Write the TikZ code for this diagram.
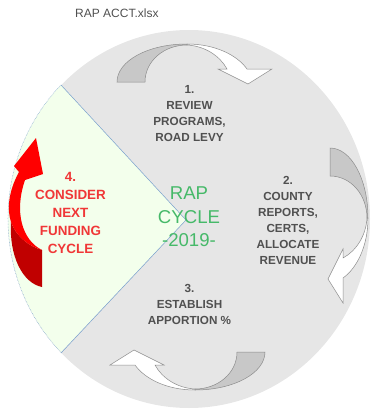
\documentclass[tikz,border=0pt]{standalone}
\usepackage{fontspec}
\setmainfont{Liberation Sans}
\definecolor{discgrey}{RGB}{230,230,230}
\definecolor{wedgegreen}{RGB}{243,255,236}
\definecolor{wedgeline}{RGB}{120,160,205}
\definecolor{labelgrey}{RGB}{80,80,80}
\definecolor{arrowgrey}{RGB}{200,200,200}
\definecolor{arrowline}{RGB}{140,140,140}
\definecolor{redtext}{RGB}{240,55,55}
\definecolor{redfront}{RGB}{255,0,0}
\definecolor{redback}{RGB}{192,0,0}
\definecolor{cyclegreen}{RGB}{70,185,105}
\begin{document}
\begin{tikzpicture}[x=1pt,y=-1pt,
	steplabel/.style={text=labelgrey,font=\bfseries\fontsize{11.7}{16}\selectfont,align=center,inner sep=0pt},
	nextlabel/.style={text=redtext,font=\bfseries\fontsize{13.4}{18}\selectfont,align=center,inner sep=0pt},
	cyclelabel/.style={text=cyclegreen,font=\fontsize{18.6}{23.5}\selectfont,align=center,inner sep=0pt},
	cycarrow/.pic={
		% back half (grey)
		\filldraw[fill=arrowgrey,draw=arrowline,line width=0.5pt] (-73,-137) -- (-45,-137)
			.. controls (-45,-158) and (-26,-174) .. (-3,-174)
			-- (-3,-175) .. controls (-42,-175) and (-73,-158) .. cycle;
		% front half with head (white)
		\filldraw[fill=white,draw=arrowline,line width=0.5pt] (-3,-175)
			.. controls (25,-175) and (47,-164) .. (57,-150) -- (82,-150) -- (58,-135) -- (28,-150) -- (37,-150)
			.. controls (30,-163) and (15,-173) .. (-3,-174) -- cycle;
	}]
	\useasboundingbox (0,0) rectangle (370,410);
	\node[anchor=west,text=labelgrey,font=\fontsize{12}{14}\selectfont,inner sep=0pt] (file) at (75,13) {RAP ACCT.xlsx};
	% disc and wedge
	\fill[discgrey] (189,219) ellipse[x radius=181,y radius=189];
	\fill[wedgegreen] (186,220) -- (61,85) arc[start angle=225,end angle=135,x radius=181,y radius=189] -- cycle;
	\draw[wedgeline,line width=0.5pt] (61,85) -- (186,220) -- (61,353);
	\draw[wedgeline,line width=0.5pt,densely dotted] (61,85) arc[start angle=225,end angle=135,x radius=181,y radius=189];
	% cycle arrows
	\pic at (190,219) {cycarrow};
	\pic[rotate=-90] at (193,221) {cycarrow};
	\pic[rotate=180] at (192,215) {cycarrow};
	% red arrow
	\fill[redback] (42,250) -- (42,287) .. controls (22,283) and (9,255) .. (11,222)
		.. controls (16,236) and (28,246) .. cycle;
	\fill[redfront] (42,250) .. controls (22,240) and (14,212) .. (25,180) -- (43,174) -- (36,138) -- (14,166) -- (19,172)
		.. controls (8,192) and (7,210) .. (11,222) .. controls (16,236) and (28,246) .. cycle;
	% labels
	\node[steplabel] (review) at (189.5,113.5) {1.\\REVIEW\\PROGRAMS,\\ROAD LEVY};
	\node[steplabel] (county) at (288,220) {2.\\COUNTY\\REPORTS,\\CERTS,\\ALLOCATE\\REVENUE};
	\node[steplabel] (apportion) at (189.5,304) {3.\\ESTABLISH\\APPORTION \%};
	\node[nextlabel] (funding) at (70.5,213) {4.\\CONSIDER\\NEXT\\FUNDING\\CYCLE};
	\node[cyclelabel] (cycle) at (189,217) {RAP\\CYCLE\\-2019-};
\end{tikzpicture}
\end{document}
